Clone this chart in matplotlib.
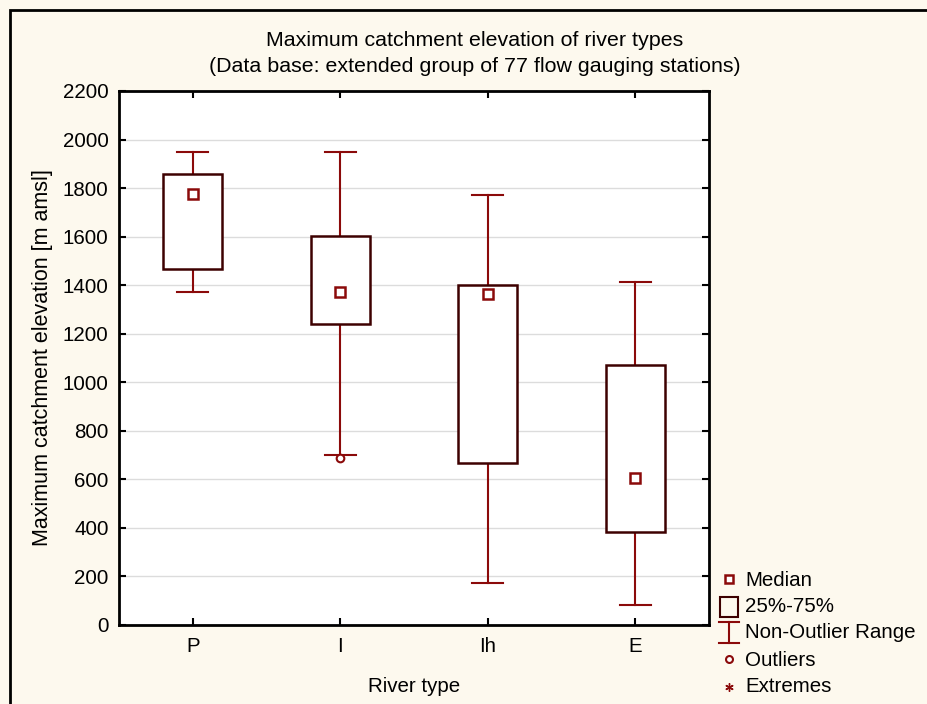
import matplotlib
matplotlib.use('Agg')
import matplotlib.pyplot as plt
from matplotlib.patches import Rectangle
from matplotlib.lines import Line2D

# Data
river_types = ['P', 'I', 'Ih', 'E']
whisker_low = [1370, 700, 173, 82]
q1 = [1465, 1240, 667, 383]
median = [1776, 1372, 1364, 606]
q3 = [1860, 1603, 1401, 1071]
whisker_high = [1950, 1950, 1772, 1413]
outlier_x = ['I']
outlier_y = [688]

plt.rcParams['font.family'] = ['Liberation Sans', 'DejaVu Sans']

bg = '#fdf9ee'
red = '#8b0a0a'
dark = '#3d0000'

fig = plt.figure(figsize=(9.28, 7.04), dpi=100, facecolor=bg)
ax = fig.add_axes([119 / 928, 1 - 625 / 704, 590 / 928, 534 / 704])
ax.set_facecolor('white')

box_w = 0.4
cap_w = 0.21
for i, t in enumerate(river_types):
    x = i + 1
    ax.plot([x, x], [q3[i], whisker_high[i]], color=red, lw=1.5, zorder=3)
    ax.plot([x, x], [whisker_low[i], q1[i]], color=red, lw=1.5, zorder=3)
    ax.plot([x - cap_w / 2, x + cap_w / 2], [whisker_high[i]] * 2, color=red, lw=1.5, zorder=3)
    ax.plot([x - cap_w / 2, x + cap_w / 2], [whisker_low[i]] * 2, color=red, lw=1.5, zorder=3)
    ax.add_patch(Rectangle((x - box_w / 2, q1[i]), box_w, q3[i] - q1[i],
                           facecolor='white', edgecolor=dark, lw=1.8, zorder=3))
    ax.plot(x, median[i], marker='s', ms=6.5, mfc='white', mec=red, mew=1.8, zorder=4)

for t, y in zip(outlier_x, outlier_y):
    ax.plot(river_types.index(t) + 1, y, marker='o', ms=5.5, mfc='white', mec=red, mew=1.5, zorder=4)

ax.set_xlim(0.5, 4.5)
ax.set_ylim(0, 2200)
ax.set_yticks(range(0, 2201, 200))
ax.set_xticks(range(1, 5))
ax.set_xticklabels(river_types)
ax.grid(axis='y', color='#dcdcdc', lw=1)
ax.set_axisbelow(True)
ax.tick_params(direction='in', length=5, width=1.5, labelsize=14.8, colors='black',
               top=True, right=True)
ax.tick_params(axis='x', pad=9)
ax.tick_params(axis='y', pad=7.5)
for s in ax.spines.values():
    s.set_linewidth(2)
ax.set_xlabel('River type', fontsize=14.8, labelpad=15)
ax.set_ylabel('Maximum catchment elevation [m amsl]', fontsize=15.5, labelpad=7)

fig.text(475 / 928, 1 - 40 / 704, 'Maximum catchment elevation of river types',
         ha='center', va='center', fontsize=15.4)
fig.text(475 / 928, 1 - 66 / 704, '(Data base: extended group of 77 flow gauging stations)',
         ha='center', va='center', fontsize=15.4)

# Outer frame
fig.add_artist(Rectangle((10 / 928, -0.01), 1, 1 - 10 / 704 + 0.01, transform=fig.transFigure,
                         fill=False, edgecolor='black', lw=2))

# Legend drawn by hand
lx = 729 / 928
tx = 745 / 928
def fy(p):
    return 1 - p / 704
fig.add_artist(Line2D([lx], [fy(579)], marker='s', ms=6, mfc='white', mec=red, mew=1.8, ls='none'))
fig.add_artist(Rectangle((720 / 928, fy(617)), 18 / 928, 20 / 704, transform=fig.transFigure,
                         fill=False, edgecolor=dark, lw=1.5))
fig.add_artist(Line2D([lx, lx], [fy(622), fy(643)], color=red, lw=1.5))
fig.add_artist(Line2D([719 / 928, 739 / 928], [fy(622), fy(622)], color=red, lw=1.5))
fig.add_artist(Line2D([719 / 928, 739 / 928], [fy(643), fy(643)], color=red, lw=1.5))
fig.add_artist(Line2D([lx], [fy(659)], marker='o', ms=5, mfc='white', mec=red, mew=1.5, ls='none'))
fig.add_artist(Line2D([lx], [fy(687)], marker=(6, 2, 0), ms=6, color=red, mew=1, ls='none'))
labels = ['Median', '25%-75%', 'Non-Outlier Range', 'Outliers', 'Extremes']
ys = [580, 607, 633, 660, 686]
for lab, y in zip(labels, ys):
    fig.text(tx, fy(y), lab, ha='left', va='center', fontsize=14.8)

fig.savefig('out.png', dpi=100, facecolor=bg)
